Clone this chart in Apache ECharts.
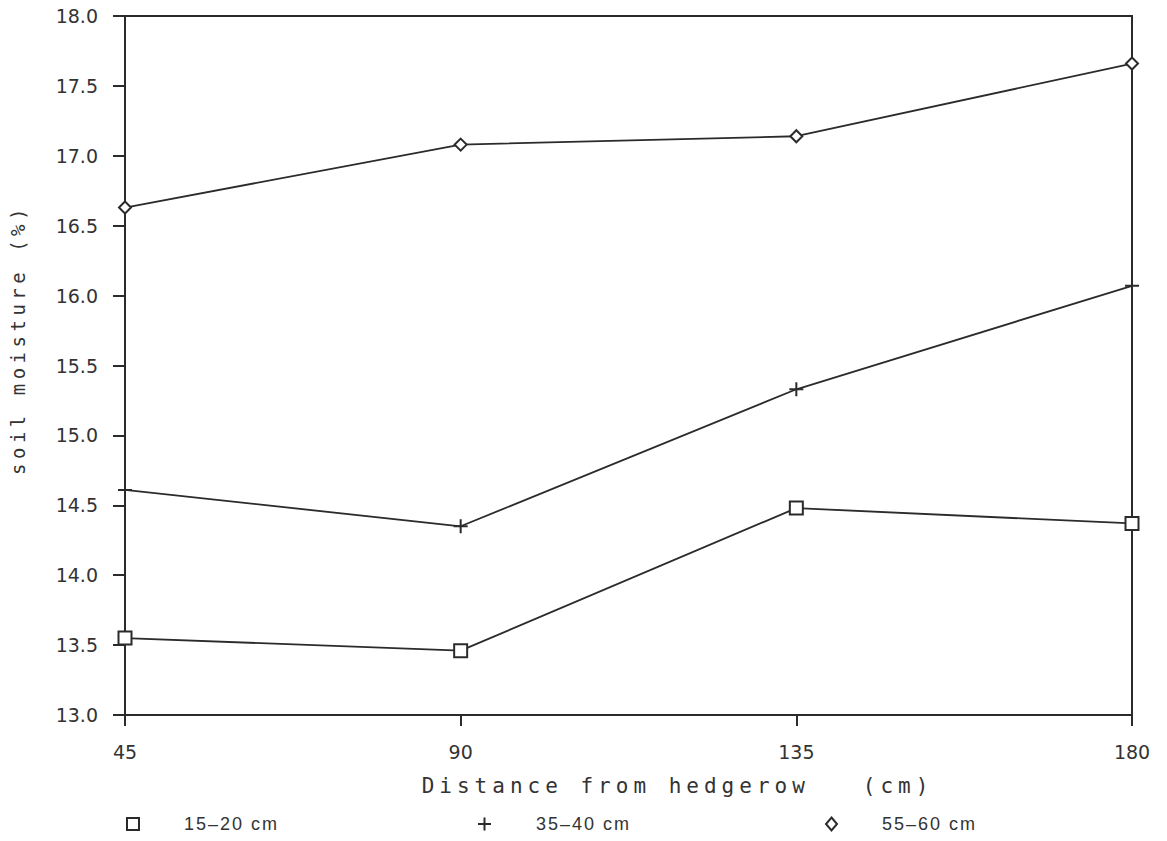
<!DOCTYPE html>
<html>
<head>
<meta charset="utf-8">
<script src="https://cdn.jsdelivr.net/npm/echarts@6/dist/echarts.min.js"></script>
<style>
  html, body { margin: 0; padding: 0; background: #fff; }
  #main { width: 1167px; height: 841px; }
</style>
</head>
<body>
<div id="main"></div>
<script>
// distance from hedgerow (cm)
var distances = [45, 90, 135, 180]
// soil moisture (%) by depth
var depth15_20 = [13.55, 13.46, 14.48, 14.37]
var depth35_40 = [14.61, 14.35, 15.33, 16.07]
var depth55_60 = [16.63, 17.08, 17.14, 17.66]
var seriesNames = ["15–20 cm", "35–40 cm", "55–60 cm"]

var xTitle = "Distance from hedgerow   (cm)"
var yTitle = "soil moisture (%)"

var ink = "#2b2b2b"
var plusPath = "path://M5,0L5,10M0,5L10,5"

function pairs(ys) {
  return distances.map(function (d, i) { return [d, ys[i]] })
}

var chart = echarts.init(document.getElementById("main"), null, { renderer: "svg" })

function lineSeries(name, ys, symbol, size) {
  return {
    name: name,
    type: "line",
    data: pairs(ys),
    symbol: symbol,
    symbolSize: size,
    showAllSymbol: true,
    lineStyle: { color: ink, width: 1.8 },
    itemStyle: { color: "#fff", borderColor: ink, borderWidth: 2 },
    emphasis: { disabled: true },
    z: 3
  }
}

function legendAt(left, name, icon, w, h) {
  return {
    left: left,
    top: 810,
    itemWidth: w,
    itemHeight: h,
    data: [{ name: name, icon: icon, itemStyle: { color: "#fff", borderColor: ink, borderWidth: 2 } }],
    textStyle: { fontFamily: "Liberation Sans", fontSize: 18, color: "#333", padding: [0, 0, 0, 40] },
    selectedMode: false
  }
}

var option = {
  animation: false,
  backgroundColor: "#fff",
  grid: {
    left: 125, right: 35, top: 16, bottom: 126,
    show: true, borderColor: ink, borderWidth: 2, backgroundColor: "transparent"
  },
  xAxis: {
    type: "value",
    min: 45, max: 180, interval: 45,
    name: xTitle,
    nameLocation: "middle",
    nameGap: 60,
    nameTextStyle: { fontFamily: "DejaVu Sans Mono", fontSize: 21, color: "#333", padding: [0, 0, 0, 98] },
    axisLine: { lineStyle: { color: ink, width: 2 } },
    axisTick: { show: true, length: 11, inside: false, lineStyle: { color: ink, width: 2 } },
    axisLabel: { fontFamily: "DejaVu Sans", fontSize: 19, color: "#333", margin: 27 },
    splitLine: { show: false }
  },
  yAxis: {
    type: "value",
    min: 13, max: 18, interval: 0.5,
    name: yTitle,
    nameLocation: "middle",
    nameGap: 98,
    nameRotate: 90,
    nameTextStyle: { fontFamily: "DejaVu Sans Mono", fontSize: 19, color: "#333", padding: [0, 0, 0, 52] },
    axisLine: { lineStyle: { color: ink, width: 2 } },
    axisTick: { show: true, length: 12, lineStyle: { color: ink, width: 2 } },
    axisLabel: {
      fontFamily: "DejaVu Sans", fontSize: 19, color: "#333", margin: 27,
      formatter: function (v) { return v.toFixed(1) }
    },
    splitLine: { show: false }
  },
  legend: [
    legendAt(121, seriesNames[0], "rect", 12, 12),
    legendAt(472, seriesNames[1], plusPath, 13, 13),
    legendAt(820, seriesNames[2], "diamond", 11, 13)
  ],
  series: [
    lineSeries(seriesNames[0], depth15_20, "rect", 13),
    lineSeries(seriesNames[1], depth35_40, plusPath, 14),
    lineSeries(seriesNames[2], depth55_60, "diamond", 12)
  ]
}

chart.setOption(option)

// spread the typewriter-style axis titles like the original print
function spaceTitles() {
  var texts = document.querySelectorAll("#main text")
  texts.forEach(function (t) {
    var s = t.textContent
    if (s === xTitle) t.setAttribute("letter-spacing", "5px")
    if (s === yTitle) t.setAttribute("letter-spacing", "4.5px")
    if (seriesNames.indexOf(s) >= 0) t.setAttribute("letter-spacing", "2px")
  })
}
chart.on("finished", spaceTitles)
spaceTitles()
setTimeout(spaceTitles, 50)

window.addEventListener("resize", function () {
  chart.resize()
})
</script>
</body>
</html>
